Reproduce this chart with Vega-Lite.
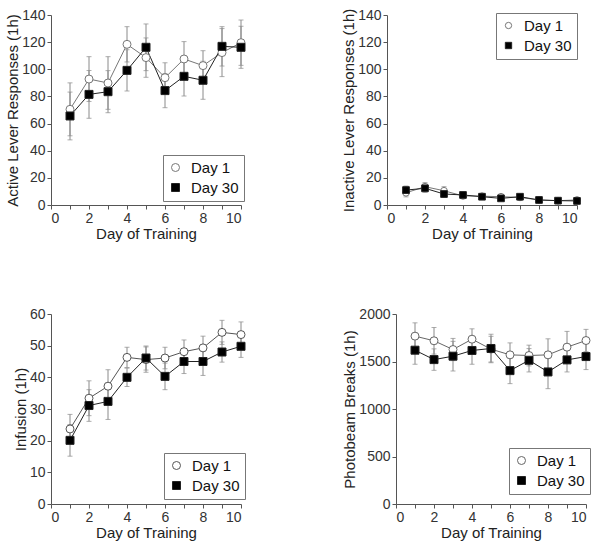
{
"$schema": "https://vega.github.io/schema/vega-lite/v6.json",
"padding": {"left": 5, "top": 8, "right": 5, "bottom": 5},
"background": "white",
"config": {
  "font": "Liberation Sans",
  "view": {"stroke": null},
  "axis": {"labelFont": "Liberation Sans", "labelFontSize": 14, "labelColor": "#333", "titleFont": "Liberation Sans", "titleFontSize": 15, "titleFontWeight": "normal", "titleColor": "#222", "domainColor": "#555", "tickColor": "#555", "tickSize": 4, "grid": false, "labelPadding": 2, "titlePadding": 1, "format": "d"},
  "legend": {"labelFont": "Liberation Sans", "labelFontSize": 15, "labelColor": "#111", "strokeColor": "#777", "fillColor": "white", "padding": 5, "symbolSize": 64, "symbolStrokeWidth": 1, "symbolOffset": 0, "rowPadding": 4, "labelOffset": 8}
},
"datasets": {"d": [
{"panel":"Active","series":"Day 1","day":1,"value":70.5,"sem":19.5},
{"panel":"Active","series":"Day 1","day":2,"value":92.8,"sem":16.5},
{"panel":"Active","series":"Day 1","day":3,"value":89.9,"sem":19.4},
{"panel":"Active","series":"Day 1","day":4,"value":118.4,"sem":13},
{"panel":"Active","series":"Day 1","day":5,"value":108.6,"sem":14.5},
{"panel":"Active","series":"Day 1","day":6,"value":93.8,"sem":11},
{"panel":"Active","series":"Day 1","day":7,"value":107.6,"sem":12.8},
{"panel":"Active","series":"Day 1","day":8,"value":102.7,"sem":11},
{"panel":"Active","series":"Day 1","day":9,"value":112.3,"sem":17.7},
{"panel":"Active","series":"Day 1","day":10,"value":119.6,"sem":16.7},
{"panel":"Active","series":"Day 30","day":1,"value":65.6,"sem":17.6},
{"panel":"Active","series":"Day 30","day":2,"value":81.5,"sem":17.6},
{"panel":"Active","series":"Day 30","day":3,"value":83.5,"sem":15.5},
{"panel":"Active","series":"Day 30","day":4,"value":99.2,"sem":15.2},
{"panel":"Active","series":"Day 30","day":5,"value":116.2,"sem":17.2},
{"panel":"Active","series":"Day 30","day":6,"value":84.3,"sem":12.6},
{"panel":"Active","series":"Day 30","day":7,"value":94.8,"sem":14.5},
{"panel":"Active","series":"Day 30","day":8,"value":91.9,"sem":14},
{"panel":"Active","series":"Day 30","day":9,"value":116.9,"sem":14.5},
{"panel":"Active","series":"Day 30","day":10,"value":116.2,"sem":15.5},
{"panel":"Inactive","series":"Day 1","day":1,"value":9,"sem":3},
{"panel":"Inactive","series":"Day 1","day":2,"value":13.5,"sem":3},
{"panel":"Inactive","series":"Day 1","day":3,"value":10.5,"sem":3},
{"panel":"Inactive","series":"Day 1","day":4,"value":6.7,"sem":2},
{"panel":"Inactive","series":"Day 1","day":5,"value":6.5,"sem":1.5},
{"panel":"Inactive","series":"Day 1","day":6,"value":6.1,"sem":1.5},
{"panel":"Inactive","series":"Day 1","day":7,"value":5.6,"sem":1.5},
{"panel":"Inactive","series":"Day 1","day":8,"value":3.7,"sem":1},
{"panel":"Inactive","series":"Day 1","day":9,"value":3.2,"sem":1},
{"panel":"Inactive","series":"Day 1","day":10,"value":3.7,"sem":1},
{"panel":"Inactive","series":"Day 30","day":1,"value":11,"sem":3},
{"panel":"Inactive","series":"Day 30","day":2,"value":12.3,"sem":3},
{"panel":"Inactive","series":"Day 30","day":3,"value":8.1,"sem":2.5},
{"panel":"Inactive","series":"Day 30","day":4,"value":7.4,"sem":1.5},
{"panel":"Inactive","series":"Day 30","day":5,"value":6.1,"sem":1.5},
{"panel":"Inactive","series":"Day 30","day":6,"value":4.9,"sem":1.5},
{"panel":"Inactive","series":"Day 30","day":7,"value":6.1,"sem":1.5},
{"panel":"Inactive","series":"Day 30","day":8,"value":3.7,"sem":1},
{"panel":"Inactive","series":"Day 30","day":9,"value":3.2,"sem":1},
{"panel":"Inactive","series":"Day 30","day":10,"value":3,"sem":1},
{"panel":"Infusion","series":"Day 1","day":1,"value":23.7,"sem":4.6},
{"panel":"Infusion","series":"Day 1","day":2,"value":33.4,"sem":5.5},
{"panel":"Infusion","series":"Day 1","day":3,"value":37.2,"sem":5.2},
{"panel":"Infusion","series":"Day 1","day":4,"value":46.3,"sem":3.2},
{"panel":"Infusion","series":"Day 1","day":5,"value":45.6,"sem":4},
{"panel":"Infusion","series":"Day 1","day":6,"value":46.1,"sem":3.4},
{"panel":"Infusion","series":"Day 1","day":7,"value":48.1,"sem":3.7},
{"panel":"Infusion","series":"Day 1","day":8,"value":49.3,"sem":3.7},
{"panel":"Infusion","series":"Day 1","day":9,"value":54.2,"sem":3.8},
{"panel":"Infusion","series":"Day 1","day":10,"value":53.5,"sem":4},
{"panel":"Infusion","series":"Day 30","day":1,"value":20.1,"sem":5},
{"panel":"Infusion","series":"Day 30","day":2,"value":31.1,"sem":5},
{"panel":"Infusion","series":"Day 30","day":3,"value":32.4,"sem":5.7},
{"panel":"Infusion","series":"Day 30","day":4,"value":40,"sem":2.9},
{"panel":"Infusion","series":"Day 30","day":5,"value":46.1,"sem":3.8},
{"panel":"Infusion","series":"Day 30","day":6,"value":40.3,"sem":4.2},
{"panel":"Infusion","series":"Day 30","day":7,"value":45,"sem":3.8},
{"panel":"Infusion","series":"Day 30","day":8,"value":45,"sem":4.4},
{"panel":"Infusion","series":"Day 30","day":9,"value":48,"sem":3.2},
{"panel":"Infusion","series":"Day 30","day":10,"value":49.8,"sem":3.5},
{"panel":"Photobeam","series":"Day 1","day":1,"value":1767,"sem":140},
{"panel":"Photobeam","series":"Day 1","day":2,"value":1718,"sem":140},
{"panel":"Photobeam","series":"Day 1","day":3,"value":1626,"sem":117},
{"panel":"Photobeam","series":"Day 1","day":4,"value":1735,"sem":109},
{"panel":"Photobeam","series":"Day 1","day":5,"value":1630,"sem":135},
{"panel":"Photobeam","series":"Day 1","day":6,"value":1570,"sem":126},
{"panel":"Photobeam","series":"Day 1","day":7,"value":1563,"sem":109},
{"panel":"Photobeam","series":"Day 1","day":8,"value":1570,"sem":169},
{"panel":"Photobeam","series":"Day 1","day":9,"value":1651,"sem":166},
{"panel":"Photobeam","series":"Day 1","day":10,"value":1721,"sem":117},
{"panel":"Photobeam","series":"Day 30","day":1,"value":1619,"sem":148},
{"panel":"Photobeam","series":"Day 30","day":2,"value":1520,"sem":113},
{"panel":"Photobeam","series":"Day 30","day":3,"value":1556,"sem":156},
{"panel":"Photobeam","series":"Day 30","day":4,"value":1616,"sem":145},
{"panel":"Photobeam","series":"Day 30","day":5,"value":1637,"sem":150},
{"panel":"Photobeam","series":"Day 30","day":6,"value":1404,"sem":137},
{"panel":"Photobeam","series":"Day 30","day":7,"value":1513,"sem":123},
{"panel":"Photobeam","series":"Day 30","day":8,"value":1390,"sem":176},
{"panel":"Photobeam","series":"Day 30","day":9,"value":1517,"sem":127},
{"panel":"Photobeam","series":"Day 30","day":10,"value":1552,"sem":137}
]},
"data": {"name": "d"},
"spacing": 66,
"resolve": {"scale": {"shape": "independent", "fill": "independent", "stroke": "independent"}, "legend": {"shape": "independent", "fill": "independent", "stroke": "independent"}},
"vconcat": [
{"hconcat": [
 {"width": 190, "height": 190,
  "transform": [{"filter": "datum.panel === 'Active'"}],
  "encoding": {
   "x": {"field": "day", "type": "quantitative", "scale": {"domain": [0, 10], "nice": false}, "axis": {"title": "Day of Training", "values": [0,1,2,3,4,5,6,7,8,9,10]}},
   "y": {"field": "value", "type": "quantitative", "scale": {"domain": [0, 140], "nice": false}, "axis": {"title": "Active Lever Responses (1h)", "values": [0,20,40,60,80,100,120,140]}}
  },
  "layer": [
   {"mark": {"type": "errorbar", "ticks": {"size": 5}, "color": "#8a8a8a"}, "encoding": {"yError": {"field": "sem"}}},
   {"mark": {"type": "line", "strokeWidth": 1}, "encoding": {"stroke": {"field": "series", "type": "nominal", "scale": {"domain": ["Day 1", "Day 30"], "range": ["#777", "#222"]}}}},
   {"mark": {"type": "point", "opacity": 1, "strokeWidth": 1, "size": 64},
    "encoding": {
     "stroke": {"field": "series", "type": "nominal"},
     "fill": {"field": "series", "type": "nominal", "scale": {"domain": ["Day 1", "Day 30"], "range": ["#fff", "#000"]}},
     "shape": {"field": "series", "type": "nominal", "scale": {"domain": ["Day 1", "Day 30"], "range": ["circle", "square"]},
      "legend": {"title": null, "orient": "none", "legendX": 112, "legendY": 140}}
    }}
  ]},
 {"width": 190, "height": 190,
  "transform": [{"filter": "datum.panel === 'Inactive'"}],
  "encoding": {
   "x": {"field": "day", "type": "quantitative", "scale": {"domain": [0, 10], "nice": false}, "axis": {"title": "Day of Training", "values": [0,1,2,3,4,5,6,7,8,9,10]}},
   "y": {"field": "value", "type": "quantitative", "scale": {"domain": [0, 140], "nice": false}, "axis": {"title": "Inactive Lever Responses (1h)", "values": [0,20,40,60,80,100,120,140]}}
  },
  "layer": [
   {"mark": {"type": "errorbar", "ticks": {"size": 5}, "color": "#8a8a8a"}, "encoding": {"yError": {"field": "sem"}}},
   {"mark": {"type": "line", "strokeWidth": 1}, "encoding": {"stroke": {"field": "series", "type": "nominal", "scale": {"domain": ["Day 1", "Day 30"], "range": ["#777", "#222"]}}}},
   {"mark": {"type": "point", "opacity": 1, "strokeWidth": 1, "size": 45},
    "encoding": {
     "stroke": {"field": "series", "type": "nominal"},
     "fill": {"field": "series", "type": "nominal", "scale": {"domain": ["Day 1", "Day 30"], "range": ["#fff", "#000"]}},
     "shape": {"field": "series", "type": "nominal", "scale": {"domain": ["Day 1", "Day 30"], "range": ["circle", "square"]},
      "legend": {"title": null, "orient": "none", "legendX": 109, "legendY": -2, "symbolSize": 40}}
    }}
  ]}
 ], "spacing": 94, "resolve": {"scale": {"shape": "independent", "fill": "independent", "stroke": "independent"}, "legend": {"shape": "independent", "fill": "independent", "stroke": "independent"}}},
{"hconcat": [
 {"width": 190, "height": 190,
  "transform": [{"filter": "datum.panel === 'Infusion'"}],
  "encoding": {
   "x": {"field": "day", "type": "quantitative", "scale": {"domain": [0, 10], "nice": false}, "axis": {"title": "Day of Training", "values": [0,1,2,3,4,5,6,7,8,9,10]}},
   "y": {"field": "value", "type": "quantitative", "scale": {"domain": [0, 60], "nice": false}, "axis": {"title": "Infusion (1h)", "values": [0,10,20,30,40,50,60]}}
  },
  "layer": [
   {"mark": {"type": "errorbar", "ticks": {"size": 5}, "color": "#8a8a8a"}, "encoding": {"yError": {"field": "sem"}}},
   {"mark": {"type": "line", "strokeWidth": 1}, "encoding": {"stroke": {"field": "series", "type": "nominal", "scale": {"domain": ["Day 1", "Day 30"], "range": ["#555", "#222"]}}}},
   {"mark": {"type": "point", "opacity": 1, "strokeWidth": 1, "size": 64},
    "encoding": {
     "stroke": {"field": "series", "type": "nominal"},
     "fill": {"field": "series", "type": "nominal", "scale": {"domain": ["Day 1", "Day 30"], "range": ["#fff", "#000"]}},
     "shape": {"field": "series", "type": "nominal", "scale": {"domain": ["Day 1", "Day 30"], "range": ["circle", "square"]},
      "legend": {"title": null, "orient": "none", "legendX": 113, "legendY": 139}}
    }}
  ]},
 {"width": 190, "height": 190,
  "transform": [{"filter": "datum.panel === 'Photobeam'"}],
  "encoding": {
   "x": {"field": "day", "type": "quantitative", "scale": {"domain": [0, 10], "nice": false}, "axis": {"title": "Day of Training", "values": [0,1,2,3,4,5,6,7,8,9,10]}},
   "y": {"field": "value", "type": "quantitative", "scale": {"domain": [0, 2000], "nice": false}, "axis": {"title": "Photobeam Breaks (1h)", "values": [0,500,1000,1500,2000]}}
  },
  "layer": [
   {"mark": {"type": "errorbar", "ticks": {"size": 5}, "color": "#8a8a8a"}, "encoding": {"yError": {"field": "sem"}}},
   {"mark": {"type": "line", "strokeWidth": 1}, "encoding": {"stroke": {"field": "series", "type": "nominal", "scale": {"domain": ["Day 1", "Day 30"], "range": ["#666", "#222"]}}}},
   {"mark": {"type": "point", "opacity": 1, "strokeWidth": 1, "size": 64},
    "encoding": {
     "stroke": {"field": "series", "type": "nominal"},
     "fill": {"field": "series", "type": "nominal", "scale": {"domain": ["Day 1", "Day 30"], "range": ["#fff", "#000"]}},
     "shape": {"field": "series", "type": "nominal", "scale": {"domain": ["Day 1", "Day 30"], "range": ["circle", "square"]},
      "legend": {"title": null, "orient": "none", "legendX": 113, "legendY": 134}}
    }}
  ]}
 ], "spacing": 95, "resolve": {"scale": {"shape": "independent", "fill": "independent", "stroke": "independent"}, "legend": {"shape": "independent", "fill": "independent", "stroke": "independent"}}}
]
}
